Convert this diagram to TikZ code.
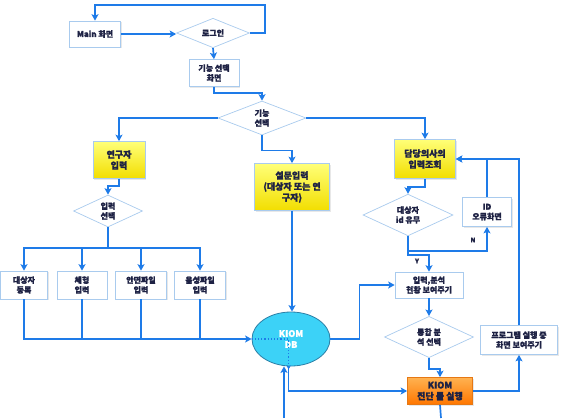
\documentclass[tikz,border=0pt]{standalone}
\usepackage{fontspec}
\newfontfamily\kr{Noto Sans CJK KR}[FakeBold=1.6]
\usetikzlibrary{shapes.geometric,arrows.meta,shadows}

\definecolor{flow}{HTML}{1E7BE8}
\definecolor{edgeblue}{HTML}{A9CBEE}
\definecolor{ink}{HTML}{1E2244}
\definecolor{dbfill}{HTML}{3CD2F7}
\definecolor{dbedge}{HTML}{2B7FA6}

\tikzset{
  lbl/.style={font=\kr\bfseries\fontsize{8}{9.8}\selectfont, text=ink, align=center},
  biglbl/.style={font=\kr\bfseries\fontsize{9}{11}\selectfont},
  box/.style={lbl, draw=edgeblue, line width=0.7pt, fill=white, inner sep=0pt,
              drop shadow={opacity=0.18, shadow xshift=1pt, shadow yshift=-1pt}},
  hibox/.style={box, biglbl, top color={rgb,255:red,255;green,255;blue,120}, bottom color={rgb,255:red,242;green,222;blue,0}},
  runbox/.style={box, biglbl, draw={rgb,255:red,230;green,120;blue,20},
                 top color={rgb,255:red,255;green,178;blue,80},
                 bottom color={rgb,255:red,255;green,118;blue,0}},
  choice/.style={lbl, diamond, draw=edgeblue, line width=0.7pt, fill=white, inner sep=0pt},
  dbnode/.style={ellipse, draw=dbedge, line width=0.8pt, fill=dbfill, inner sep=0pt,
                 font=\kr\bfseries\fontsize{9}{11}\selectfont, text=white, align=center},
  link/.style={draw=flow, line width=1.7pt},
  arr/.style={link, -{Stealth[length=6.5pt,width=7pt,inset=1.5pt]}},
  dotarr/.style={draw=flow, line width=1.2pt, dotted, -{Stealth[length=4pt,width=4.5pt]}},
  tag/.style={font=\kr\bfseries\fontsize{6.5}{7.5}\selectfont, text=ink}
}

\begin{document}
\begin{tikzpicture}[x=1pt,y=-1pt]
\useasboundingbox (0,0) rectangle (561,418);

% top: entry and login
\node[box, minimum width=51pt, minimum height=26pt] (main) at (95,34) {Main 화면};
\node[choice, minimum width=73pt, minimum height=21pt] (login) at (213,33) {로그인};
\node[box, minimum width=50pt, minimum height=27pt] (fsel) at (214,73) {기능 선택\\화면};
\node[choice, minimum width=88pt, minimum height=34pt] (fdia) at (262,118) {기능\\선택};

% three function branches
\node[hibox, minimum width=52pt, minimum height=37pt] (res) at (119,160) {연구자\\입력};
\node[hibox, minimum width=75pt, minimum height=47pt] (survey) at (292,187) {설문입력\\(대상자 또는 연\\구자)};
\node[hibox, minimum width=61pt, minimum height=39pt] (doc) at (425,159) {담당의사의\\입력조회};

% researcher inputs
\node[choice, minimum width=69pt, minimum height=28pt] (isel) at (108,211) {입력\\선택};
\node[box, minimum width=47pt, minimum height=28pt] (b1) at (24,285) {대상자\\등록};
\node[box, minimum width=50pt, minimum height=28pt] (b2) at (82,285) {체형\\입력};
\node[box, minimum width=51pt, minimum height=28pt] (b3) at (141,285) {안면파일\\입력};
\node[box, minimum width=51pt, minimum height=28pt] (b4) at (200,285) {음성파일\\입력};

% database
\node[dbnode, minimum width=78pt, minimum height=54pt] (db) at (291,339) {KIOM\\DB};

% doctor side
\node[choice, minimum width=90pt, minimum height=36pt] (idd) at (408,215) {대상자\\id 유무};
\node[box, minimum width=49pt, minimum height=29pt] (iderr) at (487,212) {ID\\오류화면};
\node[box, minimum width=68pt, minimum height=26pt] (stat) at (429,285) {입력,분석\\현황 보여주기};
\node[choice, minimum width=89pt, minimum height=36pt] (integ) at (429,337) {통합 분\\석 선택};
\node[box, minimum width=77pt, minimum height=29pt] (prog) at (519,340) {프로그램 실행 중\\화면 보여주기};
\node[runbox, minimum width=65pt, minimum height=27pt] (kiom) at (440,391) {KIOM\\진단 툴 실행};

% free ends at the lower edge
\coordinate (bot) at (284,418);
\coordinate (kbot) at (441,418);
\coordinate (loopc) at (265,5);
\coordinate (busL) at (108,248);

% top flow
\draw[arr] (main.east) -- (main.east -| login.west);
\draw[arr] (login.east) -| (loopc) -| (main.north);
\draw[arr] (login.south) -- (fsel.north);
\draw[arr] (fsel.south) -- ++(0,6) -| (fdia.north);
\draw[arr] (fdia.west) -| (res.north);
\draw[arr] (fdia.east) -| (doc.north);
\draw[arr] (fdia.south) -- ++(0,15) -| (survey.north);

% researcher branch
\draw[arr] (res.south) -- ++(0,7) -| (isel.north);
\draw[link] (isel.south) -- (busL);
\foreach \b in {b1,b2,b3,b4} \draw[arr] (busL) -| (\b.north);
\draw[arr] (b1.south) |- (db.west);
\foreach \b in {b2,b3,b4} \draw[link] (\b.south) -- (\b.south |- db.west);

% database connections
\draw[dotarr] (db.west) -| ([yshift=-3pt]db.265);
\draw[arr] (survey.south) -- (survey.south |- db.north);
\draw[arr] (bot) -- (bot |- db.south);
\draw[arr] (db.265) |- (kiom.west);
\draw[arr] (db.east) -- ++(29,0) |- (stat.west);

% doctor branch
\draw[arr] (doc.south) -- ++(0,8) -| (idd.north);
\draw[arr] (idd.south) -- ++(0,15) -| (iderr.south);
\draw[arr] (idd.south) -- ++(0,19) -| (stat.north);
\node[tag] (nlab) at (473,240) {N};
\node[tag] (ylab) at (417,261) {Y};
\draw[arr] (iderr.north) |- (doc.east);
\draw[arr] (stat.south) -- (integ.north);
\draw[arr] (integ.south) -- ++(0,11) -| (kiom.north);
\draw[link] (kiom.south) -- (kbot);
\draw[arr] (kiom.east) -| (prog.south);
\draw[arr] (prog.north) |- (doc.east);
\end{tikzpicture}
\end{document}
